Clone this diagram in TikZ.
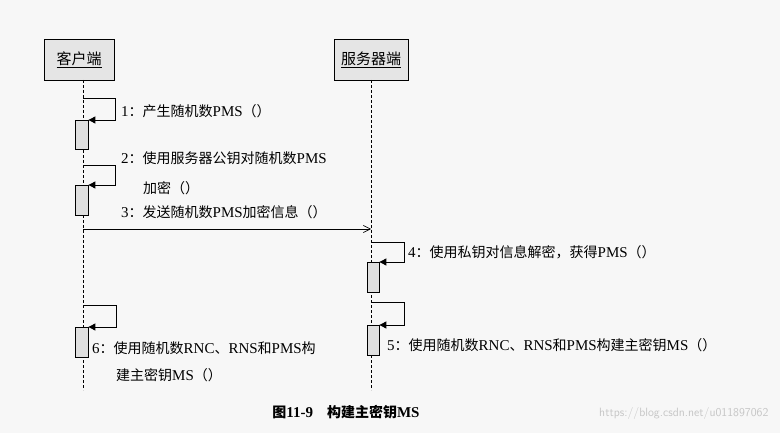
\documentclass[tikz,border=0pt]{standalone}
\usepackage{fontspec}
\setmainfont{Liberation Serif}
\newfontfamily\cjk{Noto Sans CJK SC}
\newcommand\lt[1]{{\rmfamily\fontsize{15}{17}\selectfont #1}}
\usetikzlibrary{arrows.meta}
\begin{document}
\begin{tikzpicture}[x=1pt,y=-1pt,
  objbox/.style={draw,fill=gray!20,minimum width=70pt,minimum height=41pt,font=\cjk\fontsize{15}{17}\selectfont},
  life/.style={densely dashed,line width=0.6pt},
  act/.style={draw,fill=gray!25,line width=0.8pt},
  selfmsg/.style={line width=0.9pt,-{Triangle[length=7pt,width=7pt]}},
  lbl/.style={anchor=west,font=\cjk\fontsize{14}{17}\selectfont,align=left,inner sep=0pt}]
\useasboundingbox (0,0) rectangle (780,433);
\fill[gray!6] (0,0) rectangle (780,433);
\node[objbox] (cli) at (79,59.5) {\underline{客户端}};
\node[objbox,minimum width=74pt] (srv) at (371,59.5) {\underline{服务器端}};
\coordinate (clitop) at (83,80); \coordinate (cliend) at (83,390);
\coordinate (srvtop) at (371,80); \coordinate (srvend) at (371,390);
\draw[life] (clitop) -- (cliend);
\draw[life] (srvtop) -- (srvend);
% 1
\node[act,minimum width=13pt,minimum height=29pt,inner sep=0pt] (a1) at (81.5,134.5) {};
\coordinate (m1) at (83,98);
\draw[selfmsg] (m1) -- (115,98) -- (115,120) -- (a1.north east|-0,120);
\node[lbl] (l1) at (121,111) {\lt{1}：产生随机数\lt{PMS}（）};
% 2
\node[act,minimum width=13pt,minimum height=30pt,inner sep=0pt] (a2) at (81.5,200) {};
\coordinate (m2) at (83,165);
\draw[selfmsg] (m2) -- (115,165) -- (115,185) -- (a2.north east|-0,185);
\node[lbl] (l2) at (121,158) {\lt{2}：使用服务器公钥对随机数\lt{PMS}};
\node[lbl] (l2b) at (143,188) {加密（）};
% 3
\node[lbl] (l3) at (121,212) {\lt{3}：发送随机数\lt{PMS}加密信息（）};
\coordinate (m3a) at (83,229); \coordinate (m3b) at (371,229);
\draw[line width=0.6pt,-{Straight Barb[length=7pt,width=7pt]}] (m3a) -- (m3b);
% 4
\node[act,minimum width=12pt,minimum height=30pt,inner sep=0pt] (a4) at (373,277) {};
\coordinate (m4) at (371,242);
\draw[selfmsg] (m4) -- (404,242) -- (404,262) -- (a4.north east|-0,262);
\node[lbl] (l4) at (408,252) {\lt{4}：使用私钥对信息解密，获得\lt{PMS}（）};
% 5
\node[act,minimum width=12pt,minimum height=30pt,inner sep=0pt] (a5) at (373,340) {};
\coordinate (m5) at (371,302);
\draw[selfmsg] (m5) -- (404,302) -- (404,325) -- (a5.north east|-0,325);
\node[lbl] (l5) at (387,345) {\lt{5}：使用随机数\lt{RNC}、\lt{RNS}和\lt{PMS}构建主密钥\lt{MS}（）};
% 6
\node[act,minimum width=13pt,minimum height=30pt,inner sep=0pt] (a6) at (81.5,342) {};
\coordinate (m6) at (83,305);
\draw[selfmsg] (m6) -- (116,305) -- (116,327) -- (a6.north east|-0,327);
\node[lbl] (l6) at (92,348) {\lt{6}：使用随机数\lt{RNC}、\lt{RNS}和\lt{PMS}构};
\node[lbl] (l6b) at (116,375) {建主密钥\lt{MS}（）};
\node[font=\cjk\bfseries\fontsize{14}{16}\selectfont] (cap) at (346,412) {图\lt{\bfseries 11-9}\quad 构建主密钥\lt{\bfseries MS}};
\node[anchor=east,text=gray!45,font=\sffamily\fontsize{12}{14}\selectfont] (wm) at (772,413) {https://blog.csdn.net/u011897062};
\end{tikzpicture}
\end{document}
